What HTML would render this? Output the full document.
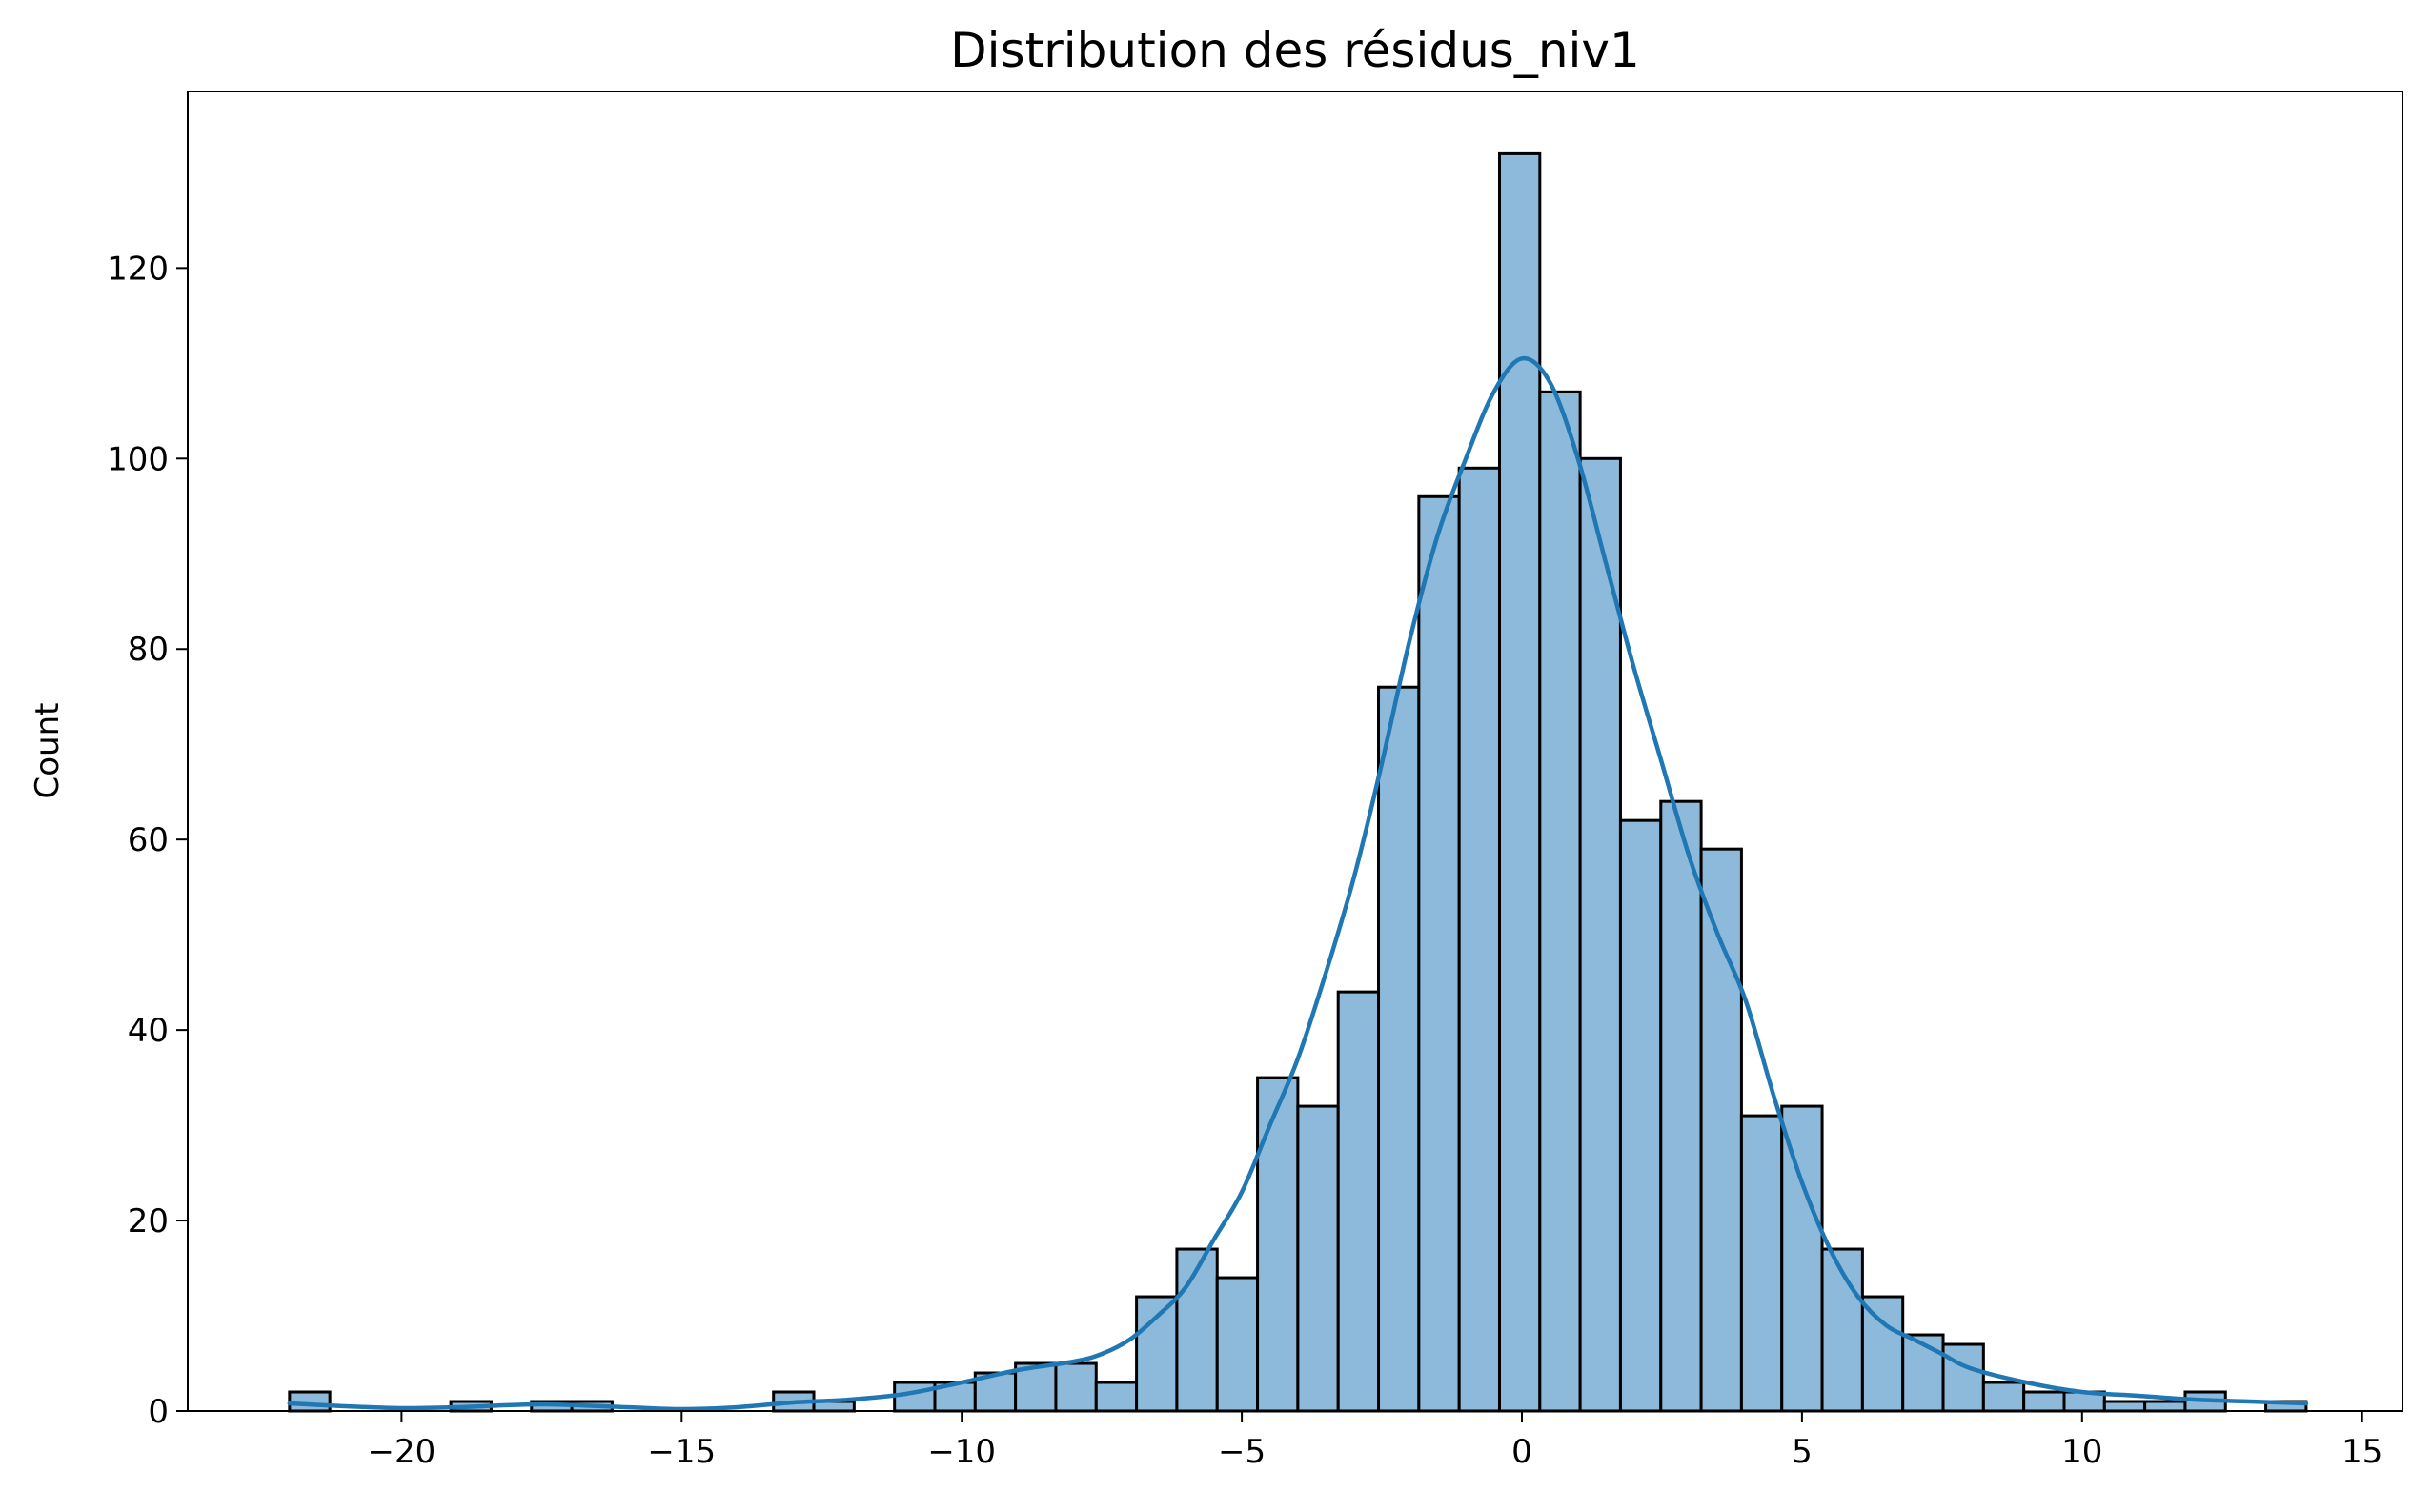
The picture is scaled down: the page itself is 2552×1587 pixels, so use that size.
<!DOCTYPE html>
<html><head><meta charset="utf-8"><style>
html,body{margin:0;padding:0;background:#fff}
svg text{font-family:"DejaVu Sans","Liberation Sans",sans-serif;fill:#000}
</style></head><body>
<svg id="chart" width="2552" height="1582" viewBox="0 0 2552 1582" xmlns="http://www.w3.org/2000/svg">
<rect width="2552" height="1582" fill="#fff"/>
<text x="1359" y="70" font-size="50" text-anchor="middle">Distribution des résidus_niv1</text>
<text transform="translate(61,788) rotate(-90)" font-size="34" text-anchor="middle">Count</text>
<g id="bars"></g>
<path id="kde" fill="none" stroke="#1f77b4" stroke-width="4.5" stroke-linejoin="round" stroke-linecap="round"/>
<g id="axes"></g>
</svg>
<script>
const binStart = -22.0;
const binWidth = 0.72;
const counts = [2,0,0,0,1,0,1,1,0,0,0,0,2,1,0,3,3,4,5,5,3,12,17,14,35,32,44,76,96,99,132,107,100,62,64,59,31,32,17,12,8,7,3,2,2,1,1,2,0,1];
const kdeX = [-22,-21,-20,-19,-17.5,-16,-15,-14,-13,-12,-11,-10,-9,-8,-7.5,-7,-6.5,-6,-5.5,-5,-4.5,-4,-3.5,-3,-2.5,-2,-1.5,-1,-0.5,0,0.5,1,1.5,2,2.5,3,3.5,4,4.5,5,5.5,6,6.5,7,7.5,8,9,10,11,12,13,14];
const kdeY = [0.8,0.5,0.3,0.4,0.7,0.4,0.2,0.4,0.9,1.2,1.8,3,4.3,5.2,6,7.5,10,13,18,23,30,37,46,56,68,81,92,100,107,110.5,108,100,89,78,68,58,50,43,33,24,17,12,9,7.5,6,4.5,3,2,1.6,1.2,1,0.8];
const xTicks = [-20,-15,-10,-5,0,5,10,15];
const yTicks = [0,20,40,60,80,100,120];
const L=197,R=2521,T=96,B=1481;
const x = v => 1597 + v*58.78;
const y = v => B - v*9.997;
const NS="http://www.w3.org/2000/svg";
const bars=document.getElementById('bars');
counts.forEach((c,i)=>{
  if(c<=0) return;
  const r=document.createElementNS(NS,'rect');
  const x0=x(binStart+i*binWidth), x1=x(binStart+(i+1)*binWidth);
  r.setAttribute('x',x0);r.setAttribute('y',y(c));
  r.setAttribute('width',x1-x0);r.setAttribute('height',y(0)-y(c));
  r.setAttribute('fill','#8db9da');r.setAttribute('stroke','#000');r.setAttribute('stroke-width','3');
  
  
  bars.appendChild(r);
});
const P=kdeX.map((v,i)=>[x(v),y(kdeY[i])]);
let d='M'+P[0][0].toFixed(1)+','+P[0][1].toFixed(1);
for(let i=0;i<P.length-1;i++){
  const p0=P[Math.max(0,i-1)],p1=P[i],p2=P[i+1],p3=P[Math.min(P.length-1,i+2)];
  const c1=[p1[0]+(p2[0]-p0[0])/6,p1[1]+(p2[1]-p0[1])/6];
  const c2=[p2[0]-(p3[0]-p1[0])/6,p2[1]-(p3[1]-p1[1])/6];
  d+=' C'+c1[0].toFixed(1)+','+c1[1].toFixed(1)+' '+c2[0].toFixed(1)+','+c2[1].toFixed(1)+' '+p2[0].toFixed(1)+','+p2[1].toFixed(1);
}
document.getElementById('kde').setAttribute('d',d);
const ax=document.getElementById('axes');
const fr=document.createElementNS(NS,'rect');
fr.setAttribute('x',L);fr.setAttribute('y',T);fr.setAttribute('width',R-L);fr.setAttribute('height',B-T);
fr.setAttribute('fill','none');fr.setAttribute('stroke','#000');fr.setAttribute('stroke-width','2');


ax.appendChild(fr);
xTicks.forEach(t=>{
  const l=document.createElementNS(NS,'line');
  l.setAttribute('x1',x(t));l.setAttribute('x2',x(t));l.setAttribute('y1',B);l.setAttribute('y2',B+12);
  l.setAttribute('stroke','#000');l.setAttribute('stroke-width','2');
  
  
  ax.appendChild(l);
  const tx=document.createElementNS(NS,'text');
  tx.setAttribute('x',x(t));tx.setAttribute('y',B+54);tx.setAttribute('font-size','34');tx.setAttribute('text-anchor','middle');
  tx.textContent=t<0?'\u2212'+Math.abs(t):String(t);
  
  
  ax.appendChild(tx);
});
yTicks.forEach(t=>{
  const l=document.createElementNS(NS,'line');
  l.setAttribute('x1',L-12);l.setAttribute('x2',L);l.setAttribute('y1',y(t));l.setAttribute('y2',y(t));
  l.setAttribute('stroke','#000');l.setAttribute('stroke-width','2');
  
  
  ax.appendChild(l);
  const tx=document.createElementNS(NS,'text');
  tx.setAttribute('x',L-20);tx.setAttribute('y',y(t)+12);tx.setAttribute('font-size','34');tx.setAttribute('text-anchor','end');
  tx.textContent=String(t);
  
  
  ax.appendChild(tx);
});
</script>
</body></html>
